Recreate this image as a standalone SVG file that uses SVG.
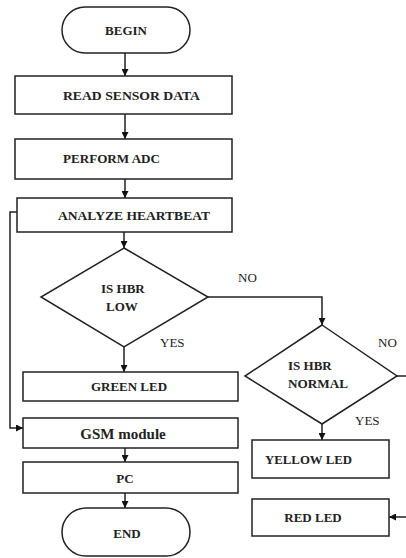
<svg xmlns="http://www.w3.org/2000/svg" width="406" height="558" viewBox="0 0 406 558">
<defs>
<marker id="ah" viewBox="0 0 10 10" refX="10" refY="5" markerWidth="7" markerHeight="7" markerUnits="userSpaceOnUse" orient="auto">
<path d="M0,0 L10,5 L0,10 z" fill="#111"/>
</marker>
<style>
.s{fill:#fff;stroke:#222;stroke-width:1.5}
.t{font-family:"Liberation Serif","DejaVu Serif","Times New Roman",serif;font-weight:bold;font-size:13px;fill:#222}
.l{font-family:"Liberation Serif","DejaVu Serif","Times New Roman",serif;font-size:13px;fill:#222}
.c{fill:none;stroke:#222;stroke-width:1.5}
</style>
</defs>
<rect width="406" height="558" fill="#fff"/>
<g id="begin"><rect class="s" x="62" y="7" width="128" height="46" rx="23"/><text class="t" x="126" y="35" text-anchor="middle">BEGIN</text></g>
<g id="read"><rect class="s" x="15" y="76" width="217" height="38"/><text class="t" x="63" y="100" textLength="137" lengthAdjust="spacingAndGlyphs">READ SENSOR DATA</text></g>
<g id="adc"><rect class="s" x="15" y="139" width="217" height="40"/><text class="t" x="63" y="163" textLength="97" lengthAdjust="spacingAndGlyphs">PERFORM  ADC</text></g>
<g id="analyze"><rect class="s" x="17" y="198" width="215" height="34"/><text class="t" x="58" y="220" textLength="152" lengthAdjust="spacingAndGlyphs">ANALYZE HEARTBEAT</text></g>
<g id="low"><polygon class="s" points="124,248 208,297 124,347 41,297"/><text class="t" x="101" y="293">IS HBR</text><text class="t" x="106" y="311">LOW</text></g>
<g id="normal"><polygon class="s" points="322,325 397,376 322,424 245,376"/><text class="t" x="288" y="370">IS HBR</text><text class="t" x="288" y="388" textLength="60" lengthAdjust="spacingAndGlyphs">NORMAL</text></g>
<g id="green"><rect class="s" x="23" y="372" width="215" height="29"/><text class="t" x="129" y="391" text-anchor="middle">GREEN LED</text></g>
<g id="gsm"><rect class="s" x="23" y="418" width="215" height="30"/><text class="t" x="123" y="439" text-anchor="middle" style="font-size:15px">GSM module</text></g>
<g id="pc"><rect class="s" x="23" y="462" width="215" height="31"/><text class="t" x="125" y="483" text-anchor="middle">PC</text></g>
<g id="end"><rect class="s" x="62" y="508" width="128" height="48" rx="24"/><text class="t" x="127" y="538" text-anchor="middle">END</text></g>
<g id="yellow"><rect class="s" x="252" y="440" width="137" height="38"/><text class="t" x="265" y="464" textLength="87" lengthAdjust="spacingAndGlyphs">YELLOW LED</text></g>
<g id="red"><rect class="s" x="252" y="499" width="137" height="37"/><text class="t" x="313" y="522" text-anchor="middle">RED LED</text></g>
<g id="connectors">
<line class="c" x1="125" y1="53" x2="125" y2="76" marker-end="url(#ah)"/>
<line class="c" x1="125" y1="114" x2="125" y2="139" marker-end="url(#ah)"/>
<line class="c" x1="125" y1="179" x2="125" y2="198" marker-end="url(#ah)"/>
<line class="c" x1="124" y1="232" x2="124" y2="248" marker-end="url(#ah)"/>
<line class="c" x1="124" y1="347" x2="124" y2="372" marker-end="url(#ah)"/>
<polyline class="c" points="208,297 322,297 322,325" marker-end="url(#ah)"/>
<line class="c" x1="322" y1="424" x2="322" y2="440" marker-end="url(#ah)"/>
<polyline class="c" points="397,376 412,376 412,517 389,517" marker-end="url(#ah)"/>
<polyline class="c" points="17,212 10,212 10,428 23,428" marker-end="url(#ah)"/>
<line class="c" x1="125" y1="448" x2="125" y2="462" marker-end="url(#ah)"/>
<line class="c" x1="125" y1="493" x2="125" y2="508" marker-end="url(#ah)"/>
<text class="l" x="238" y="282">NO</text>
<text class="l" x="160" y="347">YES</text>
<text class="l" x="378" y="347">NO</text>
<text class="l" x="355" y="425">YES</text>
</g>
</svg>
